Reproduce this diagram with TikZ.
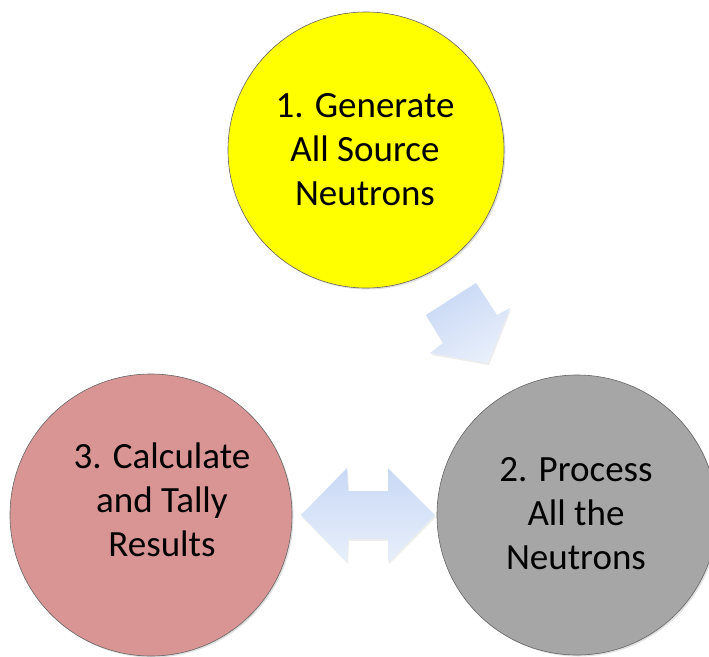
\documentclass[tikz,border=0pt]{standalone}
\usepackage{fontspec}
\setmainfont{Carlito}
\usetikzlibrary{shadows}
\definecolor{yfill}{RGB}{255,255,0}
\definecolor{rfill}{RGB}{217,149,148}
\definecolor{gfill}{RGB}{166,166,166}
\definecolor{adark}{RGB}{200,216,245}
\definecolor{alight}{RGB}{232,239,251}
\begin{document}
\begin{tikzpicture}[x=1pt,y=-1pt]
\tikzset{
  stage/.style={circle, draw=black!60, line width=0.6pt, minimum size=#1, inner sep=0pt,
    drop shadow={shadow xshift=1.5pt, shadow yshift=-1.5pt, opacity=0.25}},
  lbl/.style={align=center, font=\fontsize{37}{44}\selectfont, text=black, inner sep=0pt},
  blockarrow/.style={top color=adark, bottom color=alight,
    drop shadow={shadow xshift=1pt, shadow yshift=-2pt, opacity=0.15}}
}
\useasboundingbox (0,0) rectangle (709,656);
\node[stage=276pt, fill=yfill] (c1) at (366,150) {};
\node[stage=282pt, fill=rfill] (c3) at (151,515) {};
\node[stage=280pt, fill=gfill] (c2) at (577,515) {};
\node[lbl] (t1) at (365,150) {1. Generate\\All Source\\Neutrons};
\node[lbl] (t3) at (162,500) {3. Calculate\\and Tally\\Results};
\node[lbl] (t2) at (576,514) {2. Process\\All the\\Neutrons};
% down-right block arrow
\path[blockarrow, shading angle=30]
  (476,283) -- (497,315) -- (510,308) -- (488,363) -- (430,353) -- (443,343) -- (426,315) -- cycle;
% double arrow
\path[blockarrow]
  (301,515) -- (347,468) -- (348,491) -- (388,491) -- (388,468) -- (435,515)
  -- (388,562) -- (388,539) -- (348,539) -- (347,562) -- cycle;
\end{tikzpicture}
\end{document}
